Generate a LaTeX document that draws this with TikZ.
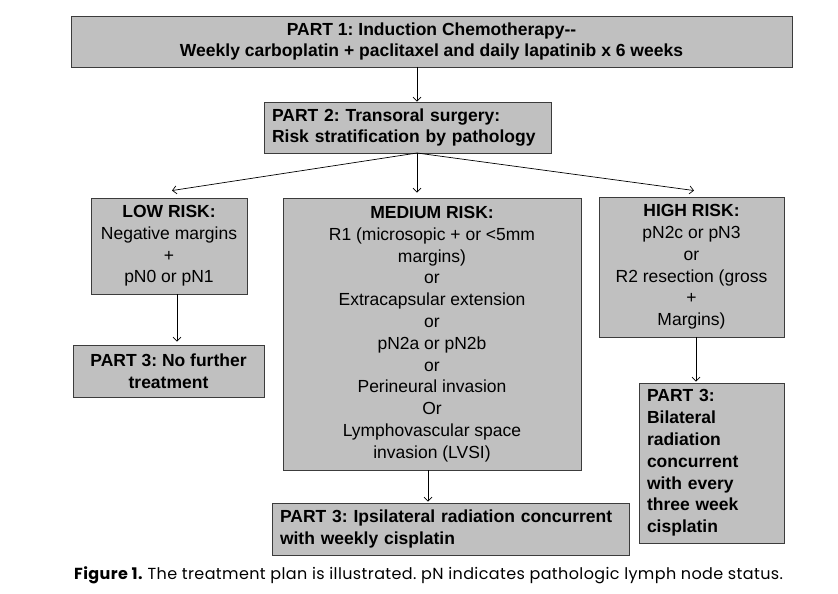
\documentclass[tikz,border=0pt]{standalone}
\usepackage{fontspec}
\setmainfont{Liberation Sans}
\newfontfamily\capfont[LetterSpace=2.4]{Poppins}
\usetikzlibrary{arrows.meta}
\definecolor{boxgray}{RGB}{192,192,192}
\definecolor{edgegray}{RGB}{60,60,60}
\begin{document}
\frenchspacing
\begin{tikzpicture}[x=1pt,y=-1pt,
  box/.style={draw=edgegray, line width=0.9pt, fill=boxgray, inner sep=0pt,
    font=\fontsize{17.5}{21.8}\selectfont, align=center},
  lbox/.style={box, align=left, inner xsep=8pt},
  bfbox/.style={font=\fontsize{17.5}{21.8}\selectfont\bfseries},
  arr/.style={line width=0.7pt, -{Straight Barb[length=4pt,width=8pt]}}
]
\useasboundingbox[fill=white] (0,0) rectangle (838,594);

\node[box, bfbox, minimum width=721pt, minimum height=51pt] (top) at (431.5,41.5)
  {PART 1: Induction Chemotherapy-{}-\\Weekly carboplatin + paclitaxel and daily lapatinib x 6 weeks};
\node[lbox, bfbox, text width=271pt, minimum height=51pt] (p2) at (407.5,127.5)
  {PART 2: Transoral surgery:\\Risk stratification by pathology};

\node[box, minimum width=156pt, minimum height=96pt] (low) at (169,246)
  {\textbf{LOW RISK:}\\Negative margins\\+\\pN0 or pN1};
\node[box, minimum width=298pt, minimum height=272pt] (med) at (432,334)
  {\textbf{MEDIUM RISK:}\\R1 (microsopic + or <5mm\\margins)\\or\\Extracapsular extension\\or\\pN2a or pN2b\\or\\Perineural invasion\\Or\\Lymphovascular space\\invasion (LVSI)};
\node[box, minimum width=185pt, minimum height=140pt] (high) at (691.5,267)
  {\textbf{HIGH RISK:}\\pN2c or pN3\\or\\R2 resection (gross\\+\\Margins)};

\node[box, bfbox, minimum width=191pt, minimum height=52pt] (nf) at (168.5,371)
  {PART 3: No further\\treatment};
\node[lbox, bfbox, text width=341pt, minimum height=52pt] (ipsi) at (450.5,529)
  {PART 3: Ipsilateral radiation concurrent\\with weekly cisplatin};
\node[lbox, bfbox, text width=129pt, minimum height=160pt] (bil) at (711.5,463)
  {PART 3:\\Bilateral\\radiation\\concurrent\\with every\\three week\\cisplatin};

\coordinate (s0) at (417,67);
\coordinate (s1) at (417,153);
\draw[arr] (s0) -- (s0 |- p2.north);
\draw[arr] (s1) -- ([xshift=3pt,yshift=7pt]low.north);
\draw[arr] (s1) -- ([yshift=5pt]s1 |- med.north);
\draw[arr] (s1) -- ([xshift=2.5pt,yshift=6pt]high.north);
\draw[arr, shorten >=3pt] ([xshift=8pt]low.south) -- ([xshift=8pt]low.south |- nf.north);
\draw[arr, shorten >=1pt] ([xshift=-4pt]med.south) -- ([xshift=-4pt]med.south |- ipsi.north);
\draw[arr, shorten >=1pt] ([xshift=4.5pt]high.south) -- ([xshift=4.5pt]high.south |- bil.north);

\node[anchor=base west, inner sep=0pt, font=\capfont\fontsize{16}{19}\selectfont] (cap) at (74,579)
  {\textbf{Figure 1.} The treatment plan is illustrated. pN indicates pathologic lymph node status.};
\end{tikzpicture}
\end{document}
